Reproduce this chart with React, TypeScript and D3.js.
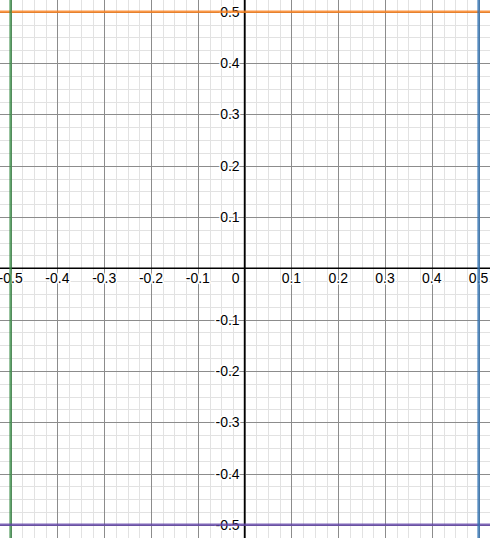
import React, { useEffect, useRef } from 'react';
import * as d3 from 'd3';

// graph lines (Desmos style): value + colour
const hLines = [
  { y: 0.5, color: '#fa7e19' },
  { y: -0.5, color: '#6042a6' },
];
const vLines = [
  { x: -0.5, color: '#388c46' },
  { x: 0.5, color: '#2d70b3' },
];
const xTicks = [-0.5, -0.4, -0.3, -0.2, -0.1, 0.1, 0.2, 0.3, 0.4, 0.5];
const yTicks = [0.5, 0.4, 0.3, 0.2, 0.1, -0.1, -0.2, -0.3, -0.4, -0.5];
const majorStep = 0.1;
const minorStep = 0.025;

export default function App() {
  const ref = useRef<SVGSVGElement>(null);

  useEffect(() => {
    const W = 490, H = 538;
    const svg = d3.select(ref.current);
    svg.selectAll('*').remove();

    const x = d3.scaleLinear().domain([-0.5, 0.5]).range([10.6, 478.6]);
    const y = d3.scaleLinear().domain([0.5, -0.5]).range([11.8, 524.8]);
    const [x0, x1] = [x.invert(0), x.invert(W)];
    const [y0, y1] = [y.invert(H), y.invert(0)];

    svg.append('rect').attr('width', W).attr('height', H).attr('fill', '#fff');

    // minor grid
    const g = svg.append('g').attr('shape-rendering', 'crispEdges');
    const minorX = d3.range(Math.ceil(x0 / minorStep), Math.floor(x1 / minorStep) + 1).map(i => i * minorStep);
    const minorY = d3.range(Math.ceil(y0 / minorStep), Math.floor(y1 / minorStep) + 1).map(i => i * minorStep);
    g.selectAll('.mx').data(minorX).join('line')
      .attr('x1', d => Math.round(x(d)) + 0.5).attr('x2', d => Math.round(x(d)) + 0.5)
      .attr('y1', 0).attr('y2', H).attr('stroke', '#e2e2e2');
    g.selectAll('.my').data(minorY).join('line')
      .attr('y1', d => Math.round(y(d)) + 0.5).attr('y2', d => Math.round(y(d)) + 0.5)
      .attr('x1', 0).attr('x2', W).attr('stroke', '#e2e2e2');

    // major grid
    const majorX = d3.range(Math.ceil(x0 / majorStep), Math.floor(x1 / majorStep) + 1).map(i => i * majorStep);
    const majorY = d3.range(Math.ceil(y0 / majorStep), Math.floor(y1 / majorStep) + 1).map(i => i * majorStep);
    const g2 = svg.append('g').attr('shape-rendering', 'crispEdges');
    g2.selectAll('line.vx').data(majorX).join('line')
      .attr('x1', d => Math.round(x(d)) + 0.5).attr('x2', d => Math.round(x(d)) + 0.5)
      .attr('y1', 0).attr('y2', H).attr('stroke', '#8c8c8c');
    g2.selectAll('line.hy').data(majorY).join('line')
      .attr('y1', d => Math.round(y(d)) + 0.5).attr('y2', d => Math.round(y(d)) + 0.5)
      .attr('x1', 0).attr('x2', W).attr('stroke', '#8c8c8c');

    // axes
    svg.append('line').attr('x1', x(0)).attr('x2', x(0)).attr('y1', 0).attr('y2', H)
      .attr('stroke', '#000').attr('stroke-width', 1.6);
    svg.append('line').attr('y1', y(0)).attr('y2', y(0)).attr('x1', 0).attr('x2', W)
      .attr('stroke', '#000').attr('stroke-width', 1.6);

    // labels
    const lab = svg.append('g')
      .style('font-family', '"Liberation Sans", Arial, sans-serif')
      .style('font-size', '14px')
      .attr('fill', '#000')
      .attr('stroke', '#fff').attr('stroke-width', 3).attr('paint-order', 'stroke')
      .attr('stroke-linejoin', 'round');
    lab.selectAll('text.xl').data(xTicks).join('text')
      .attr('x', d => x(d)).attr('y', y(0) + 15)
      .attr('text-anchor', 'middle')
      .text(d => String(d));
    lab.selectAll('text.yl').data(yTicks).join('text')
      .attr('x', x(0) - 5).attr('y', d => y(d) + 5)
      .attr('text-anchor', 'end')
      .text(d => String(d));
    lab.append('text').attr('x', x(0) - 5).attr('y', y(0) + 15)
      .attr('text-anchor', 'end').text('0');

    // graphed lines
    const lines = svg.append('g').attr('stroke-width', 2.5).attr('stroke-opacity', 0.8);
    lines.append('line').datum(hLines[0])
      .attr('x1', 0).attr('x2', W).attr('y1', d => y(d.y)).attr('y2', d => y(d.y)).attr('stroke', d => d.color);
    lines.append('line').datum(vLines[0])
      .attr('y1', 0).attr('y2', H).attr('x1', d => x(d.x)).attr('x2', d => x(d.x)).attr('stroke', d => d.color);
    lines.append('line').datum(hLines[1])
      .attr('x1', 0).attr('x2', W).attr('y1', d => y(d.y)).attr('y2', d => y(d.y)).attr('stroke', d => d.color);
    lines.append('line').datum(vLines[1])
      .attr('y1', 0).attr('y2', H).attr('x1', d => x(d.x)).attr('x2', d => x(d.x)).attr('stroke', d => d.color);
  }, []);

  return (
    <svg ref={ref} width={490} height={538}
      style={{ position: 'absolute', left: 0, top: 0, display: 'block' }} />
  );
}
